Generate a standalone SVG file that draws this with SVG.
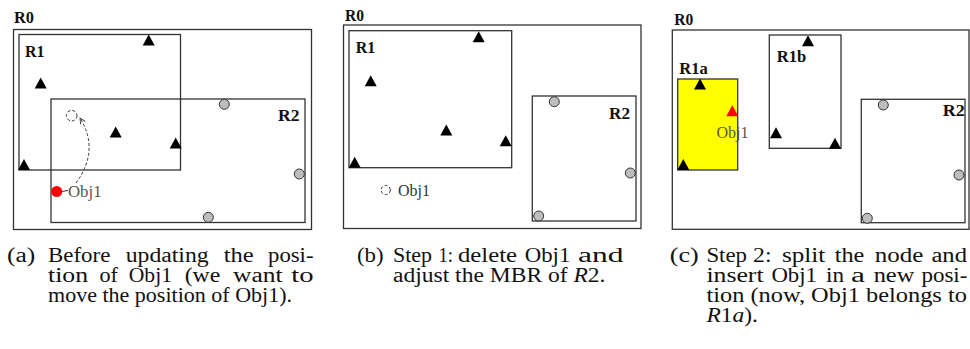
<svg xmlns="http://www.w3.org/2000/svg" width="970" height="349" viewBox="0 0 970 349">
<style>
.box{fill:none;stroke:#333;stroke-width:1.3}
.yel{fill:#ffff00;stroke:#333;stroke-width:1.3}
.lab{font-family:"Liberation Serif","Times New Roman",Times,serif;font-weight:bold;font-size:16px;fill:#111}
.obj{font-family:"Liberation Serif","Times New Roman",Times,serif;font-size:16px;fill:#555}
.cap{font-family:"Liberation Serif","Times New Roman",Times,serif;font-size:20px;fill:#111}
.pt{fill:#bdbdbd;stroke:#333;stroke-width:1}
.tri{fill:#000}
.dash{fill:none;stroke:#333;stroke-width:1;stroke-dasharray:3,2}
</style>
<defs>
<path id="t" d="M0,-5.5 L6,5.5 L-6,5.5 Z"/>
<marker id="ah" viewBox="0 0 10 10" refX="9" refY="5" markerWidth="7" markerHeight="7" orient="auto" markerUnits="userSpaceOnUse">
<path d="M1,1 L9,5 L1,9" fill="none" stroke="#333" stroke-width="1.3"/>
</marker>
</defs>

<g id="panel-a">
<g id="a-R0"><rect class="box" x="13.5" y="29.5" width="298" height="200"/><text class="lab" x="14" y="23" textLength="20" lengthAdjust="spacingAndGlyphs">R0</text></g>
<g id="a-R1"><rect class="box" x="19" y="34.5" width="161.5" height="135.5"/><text class="lab" x="25" y="56.5" textLength="19.5" lengthAdjust="spacingAndGlyphs">R1</text></g>
<g id="a-R2"><rect class="box" x="51" y="99" width="254" height="123.5"/><text class="lab" x="278" y="120.5" textLength="21.5" lengthAdjust="spacingAndGlyphs">R2</text></g>
<g id="a-points">
<use href="#t" class="tri" x="148.7" y="40"/>
<use href="#t" class="tri" x="40.7" y="83"/>
<use href="#t" class="tri" x="115.7" y="132"/>
<use href="#t" class="tri" x="175.7" y="143"/>
<use href="#t" class="tri" x="24" y="164.5"/>
<circle class="pt" cx="224.3" cy="104.3" r="5"/>
<circle class="pt" cx="299.3" cy="174" r="5"/>
<circle class="pt" cx="208.3" cy="217.3" r="5"/>
</g>
<g id="a-obj1">
<circle cx="56.7" cy="191.5" r="5.5" fill="#ff0000"/>
<circle class="dash" cx="71.7" cy="115.7" r="5.3"/>
<text class="obj" x="68" y="196.5" textLength="33.5" lengthAdjust="spacingAndGlyphs">Obj1</text>
</g>
</g>

<g id="panel-b">
<g id="b-R0"><rect class="box" x="343.5" y="25" width="297.5" height="203.5"/><text class="lab" x="345" y="20.7" textLength="19" lengthAdjust="spacingAndGlyphs">R0</text></g>
<g id="b-R1"><rect class="box" x="349" y="30.7" width="162.7" height="137"/><text class="lab" x="355.7" y="52.5" textLength="19.5" lengthAdjust="spacingAndGlyphs">R1</text></g>
<g id="b-R2"><rect class="box" x="532.3" y="96" width="103.7" height="125"/><text class="lab" x="609" y="118.7" textLength="21" lengthAdjust="spacingAndGlyphs">R2</text></g>
<g id="b-points">
<use href="#t" class="tri" x="478.7" y="36.7"/>
<use href="#t" class="tri" x="370.7" y="80.7"/>
<use href="#t" class="tri" x="446.3" y="130"/>
<use href="#t" class="tri" x="505.7" y="140.7"/>
<use href="#t" class="tri" x="354.7" y="162.3"/>
<circle class="pt" cx="554.3" cy="101.7" r="5"/>
<circle class="pt" cx="630.3" cy="173" r="5"/>
<circle class="pt" cx="538.7" cy="216" r="5"/>
</g>
<g id="b-obj1">
<circle class="dash" cx="385.7" cy="190" r="4.6"/>
<text class="obj" x="398" y="195.5" textLength="32" lengthAdjust="spacingAndGlyphs" style="fill:#333">Obj1</text>
</g>
</g>

<g id="panel-c">
<g id="c-R0"><rect class="box" x="672.3" y="30" width="296.7" height="199.3"/><text class="lab" x="674.3" y="25" textLength="19" lengthAdjust="spacingAndGlyphs">R0</text></g>
<g id="c-R1a"><rect class="yel" x="677.7" y="79" width="60" height="91"/><text class="lab" x="679.3" y="74" textLength="28.5" lengthAdjust="spacingAndGlyphs">R1a</text></g>
<g id="c-R1b"><rect class="box" x="769.3" y="35" width="71.7" height="113.3"/><text class="lab" x="776.7" y="62" textLength="29.5" lengthAdjust="spacingAndGlyphs">R1b</text></g>
<g id="c-R2"><rect class="box" x="861.3" y="99.3" width="103.7" height="123.4"/><text class="lab" x="942.7" y="116" textLength="22" lengthAdjust="spacingAndGlyphs">R2</text></g>
<g id="c-points">
<use href="#t" class="tri" x="700" y="84"/>
<use href="#t" class="tri" x="683.3" y="164.5"/>
<use href="#t" class="tri" x="808" y="40.7"/>
<use href="#t" class="tri" x="776" y="132.7"/>
<use href="#t" class="tri" x="835" y="143.3"/>
<circle class="pt" cx="883.3" cy="105" r="5"/>
<circle class="pt" cx="959" cy="175" r="5"/>
<circle class="pt" cx="867.3" cy="218.3" r="5"/>
</g>
<g id="c-obj1">
<use href="#t" x="732.3" y="110.7" fill="#ff0000"/>
<text class="obj" x="716.5" y="137.5" textLength="32" lengthAdjust="spacingAndGlyphs">Obj1</text>
</g>
</g>

<g id="connectors">
<path class="dash" d="M76,183 Q100,150 80,118" marker-end="url(#ah)" stroke-dasharray="4,2.5"/>
<line x1="61.5" y1="191.5" x2="68" y2="190.5" stroke="#333" stroke-width="1"/>
</g>

<g id="caption-a">
<text class="cap" x="7" y="262" textLength="28.3" lengthAdjust="spacingAndGlyphs">(a)</text>
<text class="cap" x="48" y="262" textLength="62.3" lengthAdjust="spacingAndGlyphs">Before</text>
<text class="cap" x="125.7" y="262" textLength="83" lengthAdjust="spacingAndGlyphs">updating</text>
<text class="cap" x="223.7" y="262" textLength="30" lengthAdjust="spacingAndGlyphs">the</text>
<text class="cap" x="268" y="262" textLength="45.5" lengthAdjust="spacingAndGlyphs">posi-</text>
<text class="cap" x="48" y="282" textLength="40" lengthAdjust="spacingAndGlyphs">tion</text>
<text class="cap" x="99.5" y="282" textLength="18.5" lengthAdjust="spacingAndGlyphs">of</text>
<text class="cap" x="128.7" y="282" textLength="43.3" lengthAdjust="spacingAndGlyphs">Obj1</text>
<text class="cap" x="184.7" y="282" textLength="35.6" lengthAdjust="spacingAndGlyphs">(we</text>
<text class="cap" x="233" y="282" textLength="49.5" lengthAdjust="spacingAndGlyphs">want</text>
<text class="cap" x="291.3" y="282" textLength="22.3" lengthAdjust="spacingAndGlyphs">to</text>
<text class="cap" x="48" y="302" textLength="244" lengthAdjust="spacingAndGlyphs">move the position of Obj1).</text>
</g>

<g id="caption-b">
<text class="cap" x="357" y="262" textLength="26.6" lengthAdjust="spacingAndGlyphs">(b)</text>
<text class="cap" x="393" y="262" textLength="39" lengthAdjust="spacingAndGlyphs">Step</text>
<text class="cap" x="438.5" y="262" textLength="14.5" lengthAdjust="spacingAndGlyphs">1:</text>
<text class="cap" x="458" y="262" textLength="59" lengthAdjust="spacingAndGlyphs">delete</text>
<text class="cap" x="524.7" y="262" textLength="45.6" lengthAdjust="spacingAndGlyphs">Obj1</text>
<text class="cap" x="578" y="262" textLength="45.5" lengthAdjust="spacingAndGlyphs">and</text>
<text class="cap" x="393" y="282" textLength="212.5" lengthAdjust="spacingAndGlyphs">adjust the MBR of <tspan font-style="italic">R</tspan>2.</text>
</g>

<g id="caption-c">
<text class="cap" x="669.7" y="262" textLength="29" lengthAdjust="spacingAndGlyphs">(c)</text>
<text class="cap" x="706.4" y="262" textLength="40.6" lengthAdjust="spacingAndGlyphs">Step</text>
<text class="cap" x="753" y="262" textLength="18.5" lengthAdjust="spacingAndGlyphs">2:</text>
<text class="cap" x="782" y="262" textLength="43.3" lengthAdjust="spacingAndGlyphs">split</text>
<text class="cap" x="834.7" y="262" textLength="29.6" lengthAdjust="spacingAndGlyphs">the</text>
<text class="cap" x="874.7" y="262" textLength="48.6" lengthAdjust="spacingAndGlyphs">node</text>
<text class="cap" x="931.4" y="262" textLength="35.6" lengthAdjust="spacingAndGlyphs">and</text>
<text class="cap" x="706.4" y="282" textLength="57.2" lengthAdjust="spacingAndGlyphs">insert</text>
<text class="cap" x="771.4" y="282" textLength="45.6" lengthAdjust="spacingAndGlyphs">Obj1</text>
<text class="cap" x="826" y="282" textLength="18" lengthAdjust="spacingAndGlyphs">in</text>
<text class="cap" x="851" y="282" textLength="14" lengthAdjust="spacingAndGlyphs">a</text>
<text class="cap" x="873.7" y="282" textLength="40.6" lengthAdjust="spacingAndGlyphs">new</text>
<text class="cap" x="921.4" y="282" textLength="46" lengthAdjust="spacingAndGlyphs">posi-</text>
<text class="cap" x="706.4" y="302" textLength="260.5" lengthAdjust="spacingAndGlyphs">tion (now, Obj1 belongs to</text>
<text class="cap" x="706.4" y="322" textLength="51.6" lengthAdjust="spacingAndGlyphs"><tspan font-style="italic">R</tspan>1<tspan font-style="italic">a</tspan>).</text>
</g>
</svg>
